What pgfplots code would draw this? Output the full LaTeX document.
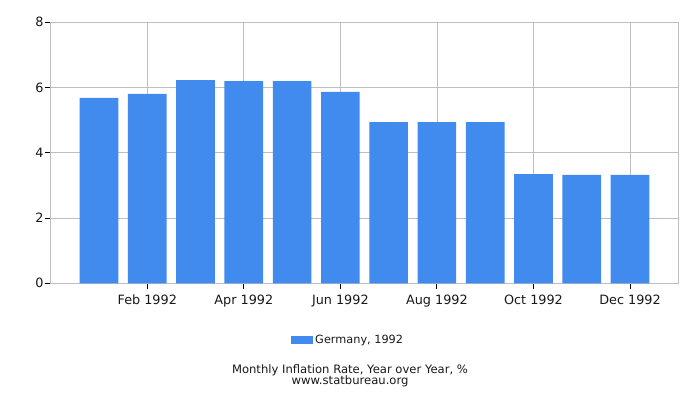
\documentclass[border=0pt]{standalone}
\usepackage{pgfplots}
\pgfplotsset{compat=1.18}
\usepackage{fontspec}
\setmainfont{DejaVu Sans}
\definecolor{barblue}{RGB}{65,139,238}
\definecolor{gridgray}{RGB}{190,190,190}
\definecolor{txt}{RGB}{25,25,25}

\begin{document}
\begin{tikzpicture}[x=1pt, y=1pt]
  \path[use as bounding box, fill=white] (-50.7,-116.7) rectangle (649.3,283.3);
  \begin{axis}[
      scale only axis, width=627.6pt, height=261pt,
      at={(0,0)}, anchor=south west,
      xmin=0, xmax=13, ymin=0, ymax=8,
      xtick={2,4,...,12},
      xticklabels={Feb 1992, Apr 1992, Jun 1992, Aug 1992, Oct 1992, Dec 1992},
      ytick={0,2,...,8},
      tick pos=left, tick align=outside, major tick length=6pt,
      every tick/.style={black, line width=0.9pt},
      grid=major, major grid style={gridgray, line width=0.8pt},
      axis line style={gridgray, line width=0.8pt},
      ticklabel style={font=\fontsize{12.8}{15}\selectfont, text=txt},
      xticklabel style={yshift=-2pt},
      yticklabel style={inner sep=1pt},
      /pgf/number format/assume math mode=true,
      ybar, bar width=0.8,
      legend style={at={(axis description cs:0.474,-0.217)}, anchor=center,
        draw=none, fill=none, font=\fontsize{11.3}{13}\selectfont, text=txt},
      legend image code/.code={\fill[barblue] (0pt,-4pt) rectangle (22pt,4pt);},
    ]
    \addplot[fill=barblue, draw=none] coordinates {
      (1,5.68) (2,5.81) (3,6.23) (4,6.20) (5,6.20) (6,5.87)
      (7,4.94) (8,4.94) (9,4.94) (10,3.35) (11,3.32) (12,3.32)};
    \addlegendentry{Germany, 1992}
  \end{axis}
  \node[font=\fontsize{11.6}{13}\selectfont, text=txt] at (299.3,-86.7) {Monthly Inflation Rate, Year over Year, \%};
  \node[font=\fontsize{11.6}{13}\selectfont, text=txt] at (299.3,-98.4) {www.statbureau.org};
\end{tikzpicture}
\end{document}
